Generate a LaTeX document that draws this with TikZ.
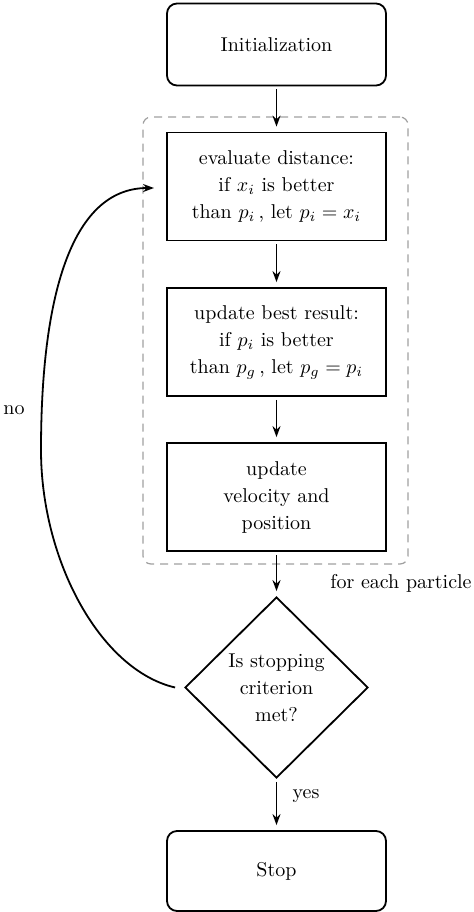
\documentclass[tikz,border=0pt]{standalone}
\usetikzlibrary{shapes.geometric,arrows.meta}
\begin{document}
\begin{tikzpicture}[x=0.5pt,y=-0.5pt,
  txt/.style={font=\fontsize{10}{13.5}\selectfont, align=center},
  roundbox/.style={txt, draw, line width=0.9pt, rounded corners=5pt, minimum width=109.5pt, minimum height=41pt},
  procbox/.style={txt, draw, line width=0.9pt, minimum width=109.5pt, minimum height=54pt},
  decision/.style={txt, draw, line width=0.9pt, diamond, minimum width=91.5pt, minimum height=90.5pt, inner sep=0pt},
  flow/.style={line width=0.9pt, -{Stealth[length=5.5pt,width=4pt]}, shorten <=1.5pt, shorten >=2.5pt},
  loopbox/.style={draw=gray!75, dash pattern=on 4pt off 3pt, line width=0.6pt, rounded corners=4pt}
]
\useasboundingbox (0,0) rectangle (473,912);

\node[loopbox, minimum width=132.5pt, minimum height=223.5pt] (loop) at (275.5,340.5) {};

\node[roundbox] (init) at (276.5,44.5) {Initialization};
\node[procbox] (eval) at (276.5,186.5) {evaluate distance:\\ if $x_i$ is better\\ than $p_i$\,, let $p_i=x_i$};
\node[procbox] (best) at (276.5,342) {update best result:\\ if $p_i$ is better\\ than $p_g$\,, let $p_g=p_i$};
\node[procbox] (vel) at (276.5,497) {update\\ velocity and\\ position};
\node[decision] (dec) at (276.5,687.5) {Is stopping\\ criterion\\ met?};
\node[roundbox, minimum height=40pt] (stop) at (276.5,871) {Stop};

\node[txt, anchor=west, inner sep=1pt] (each) at (328,583) {for each particle};
\node[txt] (yes) at (306,796) {yes};
\node[txt] (no) at (14,410) {no};

\coordinate (ret) at (154,188);
\coordinate (mid) at (41,450);

\draw[flow] (init) -- (eval);
\draw[flow] (eval) -- (best);
\draw[flow] (best) -- (vel);
\draw[flow] (vel) -- (dec);
\draw[flow] (dec) -- (stop);
\draw[line width=0.9pt, -{Stealth[length=5.5pt,width=4pt]}]
  ([xshift=-4.5pt]dec.west) .. controls (100,670) and (41,560) .. (mid)
  .. controls (41,300) and (70,188) .. (ret);
\end{tikzpicture}
\end{document}
